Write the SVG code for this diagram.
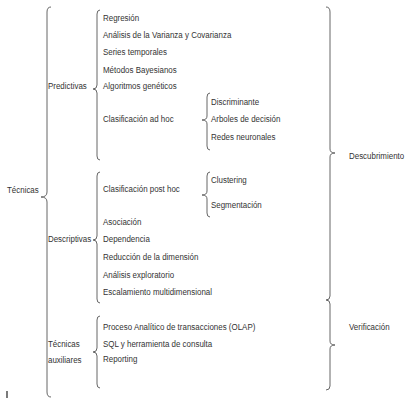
<svg xmlns="http://www.w3.org/2000/svg" width="407" height="406" viewBox="0 0 407 406">
<style>
text{font-family:"Liberation Sans",Arial,sans-serif;font-size:9.7px;fill:#333}
.br{fill:none;stroke:#666;stroke-width:1}
</style>
<rect width="407" height="406" fill="#fff"/>
<g id="connectors">
<path id="b-tecnicas" class="br" d="M51,7 Q47,7 47,12 L47,192 Q47,197 41,197 Q47,197 47,202 L47,392 Q47,397 51,397"/>
<path id="b-predictivas" class="br" d="M100,10 Q97,10 97,14 L97,85 Q97,89 93,89 Q97,89 97,93 L97,156 Q97,160 100,160"/>
<path id="b-descriptivas" class="br" d="M100,172 Q97,172 97,176 L97,236 Q97,240 93,240 Q97,240 97,244 L97,299 Q97,303 100,303"/>
<path id="b-auxiliares" class="br" d="M100,316 Q97,316 97,320 L97,348 Q97,352 93,352 Q97,352 97,356 L97,384 Q97,388 100,388"/>
<path id="b-adhoc" class="br" d="M210,93 Q207,93 207,97 L207,116 Q207,120 202,120 Q207,120 207,124 L207,146 Q207,150 210,150"/>
<path id="b-posthoc" class="br" d="M210,172 Q207,172 207,176 L207,191 Q207,195 202,195 Q207,195 207,199 L207,213 Q207,217 210,217"/>
<path id="b-descubrimiento" class="br" d="M326,7 Q330,7 330,12 L330,149 Q330,153 335,153 Q330,153 330,157 L330,296 Q330,300 326,300"/>
<path id="b-verificacion" class="br" d="M326,300 Q330,300 330,304 L330,341 Q330,345 335,345 Q330,345 330,349 L330,386 Q330,390 326,390"/>
</g>
<g transform="scale(0.82 1)">
<g id="n-tecnicas"><text x="8.5" y="193.5">Técnicas</text></g>
<g id="n-predictivas"><text x="58.5" y="89.5">Predictivas</text></g>
<g id="n-descriptivas"><text x="58.5" y="242.5">Descriptivas</text></g>
<g id="n-auxiliares"><text x="58.5" y="347">Técnicas</text><text x="58.5" y="363.5">auxiliares</text></g>
<g id="n-regresion"><text x="125.6" y="21">Regresión</text></g>
<g id="n-anova"><text x="125.6" y="38">Análisis de la Varianza y Covarianza</text></g>
<g id="n-series"><text x="125.6" y="55">Series temporales</text></g>
<g id="n-bayes"><text x="125.6" y="72.5">Métodos Bayesianos</text></g>
<g id="n-geneticos"><text x="125.6" y="89.5">Algoritmos genéticos</text></g>
<g id="n-adhoc"><text x="125.6" y="122.5">Clasificación ad hoc</text></g>
<g id="n-discriminante"><text x="257.3" y="105.5">Discriminante</text></g>
<g id="n-arboles"><text x="257.3" y="122.5">Arboles de decisión</text></g>
<g id="n-redes"><text x="257.3" y="140.5">Redes neuronales</text></g>
<g id="n-posthoc"><text x="125.6" y="192">Clasificación post hoc</text></g>
<g id="n-clustering"><text x="257.3" y="183.5">Clustering</text></g>
<g id="n-segmentacion"><text x="257.3" y="208.5">Segmentación</text></g>
<g id="n-asociacion"><text x="125.6" y="225.5">Asociación</text></g>
<g id="n-dependencia"><text x="125.6" y="242.5">Dependencia</text></g>
<g id="n-reduccion"><text x="125.6" y="260.5">Reducción de la dimensión</text></g>
<g id="n-exploratorio"><text x="125.6" y="278">Análisis exploratorio</text></g>
<g id="n-escalamiento"><text x="125.6" y="295.5">Escalamiento multidimensional</text></g>
<g id="n-olap"><text x="125.6" y="330.5">Proceso Analítico de transacciones (OLAP)</text></g>
<g id="n-sql"><text x="125.6" y="347">SQL y herramienta de consulta</text></g>
<g id="n-reporting"><text x="125.6" y="362.5">Reporting</text></g>
<g id="n-descubrimiento"><text x="425.6" y="159.5">Descubrimiento</text></g>
<g id="n-verificacion"><text x="425.6" y="330">Verificación</text></g>
</g>
<line x1="7" y1="391" x2="7" y2="398" stroke="#222" stroke-width="1.2"/>
</svg>
